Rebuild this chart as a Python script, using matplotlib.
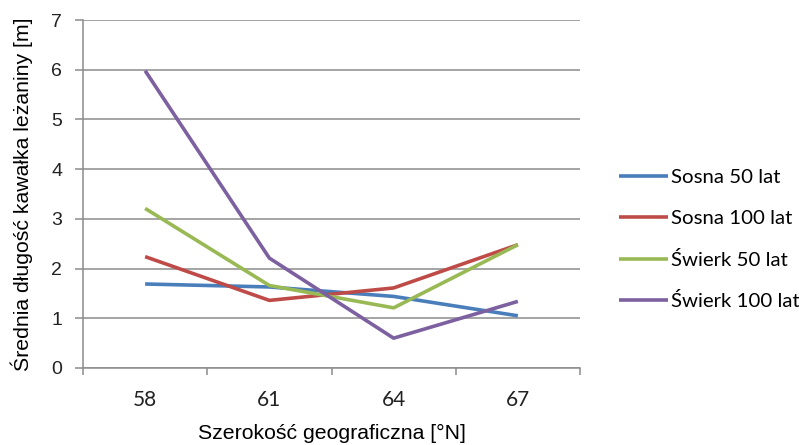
import matplotlib.pyplot as plt
import numpy as np

szerokosc = ["58", "61", "64", "67"]
sosna_50 = [1.69, 1.63, 1.44, 1.05]
sosna_100 = [2.24, 1.36, 1.61, 2.48]
swierk_50 = [3.21, 1.66, 1.21, 2.48]
swierk_100 = [5.98, 2.21, 0.60, 1.34]

serie = [
    ("Sosna 50 lat", sosna_50, "#4a7ebb"),
    ("Sosna 100 lat", sosna_100, "#be4b48"),
    ("Świerk 50 lat", swierk_50, "#98b954"),
    ("Świerk 100 lat", swierk_100, "#7d60a0"),
]

fig = plt.figure(figsize=(7.99, 4.45), dpi=100)
ax = fig.add_axes([83 / 799, 1 - 368 / 445, (580 - 83) / 799, (368 - 20) / 445])

x = np.arange(len(szerokosc))
for nazwa, wart, kolor in serie:
    ax.plot(x, wart, color=kolor, lw=2.6, label=nazwa, solid_capstyle="butt")

grid_col = "#8c8c8c"
ax.set_xlim(-0.5, len(szerokosc) - 0.5)
ax.set_ylim(0, 7)
ax.set_yticks(range(0, 8))
ax.yaxis.grid(True, color=grid_col, lw=1.1)
ax.set_axisbelow(True)

for s in ["top", "right"]:
    ax.spines[s].set_visible(False)
for s in ["left", "bottom"]:
    ax.spines[s].set_color(grid_col)
    ax.spines[s].set_linewidth(1.1)

# etykiety w środku kategorii, kreski podziałki na ich granicach
ax.set_xticks(x)
ax.set_xticklabels(szerokosc)
ax.set_xticks(np.arange(-0.5, len(szerokosc)), minor=True)
ax.tick_params(axis="x", which="major", length=0, pad=16)
ax.tick_params(axis="x", which="minor", length=5, color=grid_col, width=1.1)
ax.tick_params(axis="y", length=6, color=grid_col, width=1.1, pad=9)
for lab in ax.get_xticklabels():
    lab.set_fontfamily("Lato")
    lab.set_fontsize(15)
    lab.set_color("#222222")
for lab in ax.get_yticklabels():
    lab.set_fontfamily("Liberation Sans")
    lab.set_fontsize(14)
    lab.set_color("#222222")

ax.set_xlabel("Szerokość geograficzna [°N]", fontsize=15.3,
              family="Liberation Sans", va="top")
ax.set_ylabel("Średnia długość kawałka leżaniny [m]", fontsize=15.3,
              family="Liberation Sans")
ax.xaxis.set_label_coords(0.5, (368 - 424) / 348)
ax.yaxis.set_label_coords((33 - 83) / 497, 0.5)

ax.legend(loc="upper left", bbox_to_anchor=(611 / 799, 1 - 161 / 445),
          bbox_transform=fig.transFigure, frameon=False,
          prop={"family": "Lato", "size": 14.7},
          handlelength=2.4, handletextpad=0.12, labelspacing=1.15,
          borderaxespad=0)

fig.savefig("out.png", dpi=100)
